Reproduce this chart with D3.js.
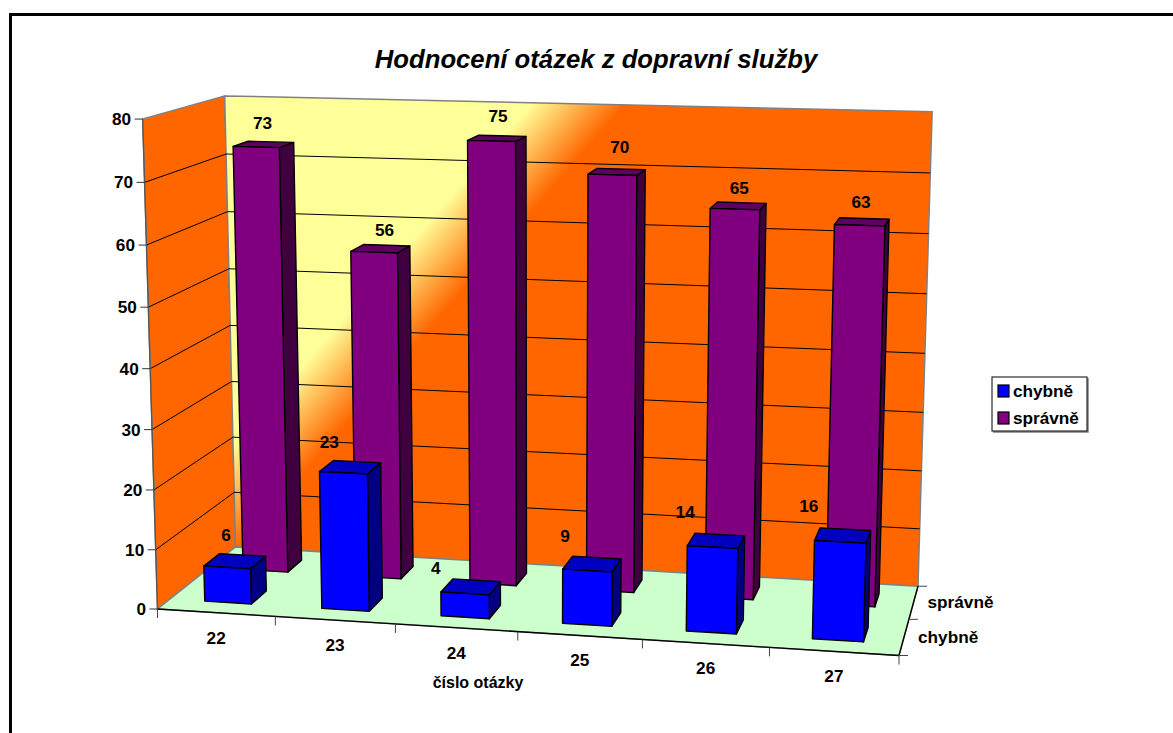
<!DOCTYPE html>
<html><head><meta charset="utf-8">
<script src="https://d3js.org/d3.v7.min.js"></script>
<style>html,body{margin:0;padding:0;background:#fff}svg{display:block}text{font-family:"Liberation Sans",Arial,sans-serif;font-weight:bold;fill:#000}</style>
</head><body><svg id="c" width="1173" height="733"></svg>
<script>
const categories = ["22","23","24","25","26","27"];
const seriesNames = ["chybně","správně"];
const chybne = [6,23,4,9,14,16];
const spravne = [73,56,75,70,65,63];
const valueTicks = [0,10,20,30,40,50,60,70,80];
const titleText = "Hodnocení otázek z dopravní služby";
const axisTitle = "číslo otázky";

const svg = d3.select("#c");
// floor frame: front-left, front-right, back-left corners and perspective weights
const FL=[157.5,609], FR=[899,655.5], BL=[235.5,547];
const persU=-0.055, persV=0.088;
const vanish = [540,13240];   // where the vertical edges converge
const lift = -0.03734;        // projective weight of the vertical axis

const H={g:persU,h:persV,c:FL[0],k:FL[1],
 a:FR[0]*(1+persU)-FL[0], b:BL[0]*(1+persV)-FL[0],
 e:FR[1]*(1+persU)-FL[1], f:BL[1]*(1+persV)-FL[1]};

const xBand=d3.scaleBand().domain(categories).range([0,1]).paddingInner(.6).paddingOuter(.3);
const zBand=d3.scaleBand().domain(seriesNames).range([0,1]).paddingInner(.6).paddingOuter(.3);
const yScale=d3.scaleLinear().domain([0,80]).range([0,1]);
function P(u,val,v){
  const t=yScale(val)*lift;
  const w=H.g*u+H.h*v+1+t;
  return [(H.a*u+H.b*v+H.c+t*vanish[0])/w,(H.e*u+H.f*v+H.k+t*vanish[1])/w];
}
const pathOf=pts=>"M"+pts.map(p=>p[0].toFixed(2)+","+p[1].toFixed(2)).join("L")+"Z";

const defs=svg.append("defs");
const gx=.753,gy=.658,g0=468,g1=540;
const grad=defs.append("linearGradient").attr("id","wall").attr("gradientUnits","userSpaceOnUse")
 .attr("x1",gx*g0).attr("y1",gy*g0).attr("x2",gx*g1).attr("y2",gy*g1);
grad.append("stop").attr("offset",0).attr("stop-color","#FFFF99");
grad.append("stop").attr("offset",1).attr("stop-color","#FF6600");

// frame
svg.append("path").attr("d","M10.5,733V14.5H1173").attr("fill","none").attr("stroke","#000").attr("stroke-width",3);

// walls and floor
const wallEdge="#808080";
svg.append("path").attr("d",pathOf([P(0,0,0),P(0,80,0),P(0,80,1),P(0,0,1)])).attr("fill","#FF6600").attr("stroke",wallEdge).attr("stroke-width",1.5);
svg.append("path").attr("d",pathOf([P(0,0,1),P(0,80,1),P(1,80,1),P(1,0,1)])).attr("fill","url(#wall)").attr("stroke",wallEdge).attr("stroke-width",1.5);
svg.append("path").attr("d",pathOf([P(0,0,0),P(1,0,0),P(1,0,1),P(0,0,1)])).attr("fill","#CCFFCC").attr("stroke",wallEdge).attr("stroke-width",1.5);

// gridlines
const gridTicks=valueTicks.filter(d=>d>0&&d<80);
svg.append("g").selectAll("path").data(gridTicks).join("path")
 .attr("d",d=>{const a=P(0,d,0),b=P(0,d,1),c=P(1,d,1);return `M${a}L${b}L${c}`;})
 .attr("fill","none").attr("stroke","#000").attr("stroke-width",1);

// axis lines and ticks
const line=(a,b,col="#000",w=1)=>svg.append("path").attr("d",`M${a}L${b}`).attr("stroke",col).attr("stroke-width",w).attr("fill","none");
line(P(0,0,0),P(1,0,0),"#000",1.3);
line(P(1,0,0),P(1,0,1),"#000",1.3);
line(P(0,0,0),P(0,80,0),"#555",1.3);
const fs=17.2;
valueTicks.forEach(d=>{const p=P(0,d,0);line([p[0]-8,p[1]],p,"#333",1);
 svg.append("text").attr("x",p[0]-11.5).attr("y",p[1]+6).attr("text-anchor","end").attr("font-size",fs).text(d);});
d3.range(0,7).forEach(i=>{const p=P(i/6,0,0);line(p,[p[0],p[1]+9],"#444",1);});
[0,.5,1].forEach(v=>{const p=P(1,0,v);line(p,[p[0]+9,p[1]],"#444",1);});
categories.forEach(c=>{const p=P(xBand(c)+xBand.bandwidth()/2,0,0);
 svg.append("text").attr("x",p[0]).attr("y",p[1]+31).attr("text-anchor","middle").attr("font-size",fs).text(c);});
seriesNames.forEach(s=>{const p=P(1,0,zBand(s)+zBand.bandwidth()/2);
 svg.append("text").attr("x",p[0]+14).attr("y",p[1]+6).attr("font-size",fs).text(s);});

// bars
const colors={
 "chybně":{front:"#0000FF",top:"#0000C0",side:"#000080"},
 "správně":{front:"#800080",top:"#600060",side:"#400040"}};
function bar(g,cat,s,val){
 const x0=xBand(cat),x1=x0+xBand.bandwidth(),z0=zBand(s),z1=z0+zBand.bandwidth(),col=colors[s];
 const face=(pts,f)=>g.append("path").attr("d",pathOf(pts)).attr("fill",f).attr("stroke","#000").attr("stroke-width",1.4).attr("stroke-linejoin","round");
 face([P(x1,0,z0),P(x1,val,z0),P(x1,val,z1),P(x1,0,z1)],col.side);
 face([P(x0,val,z0),P(x1,val,z0),P(x1,val,z1),P(x0,val,z1)],col.top);
 face([P(x0,0,z0),P(x1,0,z0),P(x1,val,z0),P(x0,val,z0)],col.front);
}
const gb=svg.append("g");
categories.forEach((c,i)=>bar(gb,c,"správně",spravne[i]));
categories.forEach((c,i)=>bar(gb,c,"chybně",chybne[i]));

// data labels
const labelShift={"chybně":[-9,-21,-35,-27,-31,-34],"správně":[-1,4,1,3,1,-1]};
const labelRise={"chybně":[20,19,13,22,23,23],"správně":[15,13,16,19,12,14]};
[["správně",spravne],["chybně",chybne]].forEach(([s,vals])=>{
 categories.forEach((c,i)=>{
  const p=P(xBand(c)+xBand.bandwidth()/2,vals[i],zBand(s)+zBand.bandwidth()/2);
  svg.append("text").attr("x",p[0]+labelShift[s][i]).attr("y",p[1]-labelRise[s][i]).attr("text-anchor","middle").attr("font-size",fs).text(vals[i]);
 });
});

// titles
svg.append("text").attr("x",596).attr("y",68).attr("text-anchor","middle").attr("font-size",25.7).attr("font-style","italic").text(titleText);
svg.append("text").attr("x",478).attr("y",688).attr("text-anchor","middle").attr("font-size",16).text(axisTitle);

// legend
const lg=svg.append("g");
lg.append("path").attr("d","M993,432H1088V378").attr("fill","none").attr("stroke","#808080").attr("stroke-width",1.5);
lg.append("rect").attr("x",992).attr("y",377).attr("width",95).attr("height",54).attr("fill","#fff").attr("stroke","#000").attr("stroke-width",1);
seriesNames.forEach((s,i)=>{
 const y=385+i*27;
 lg.append("rect").attr("x",998).attr("y",y).attr("width",11).attr("height",12).attr("fill",colors[s].front).attr("stroke","#000").attr("stroke-width",1.2);
 lg.append("text").attr("x",1013).attr("y",y+12).attr("font-size",fs).text(s);
});
</script></body></html>
